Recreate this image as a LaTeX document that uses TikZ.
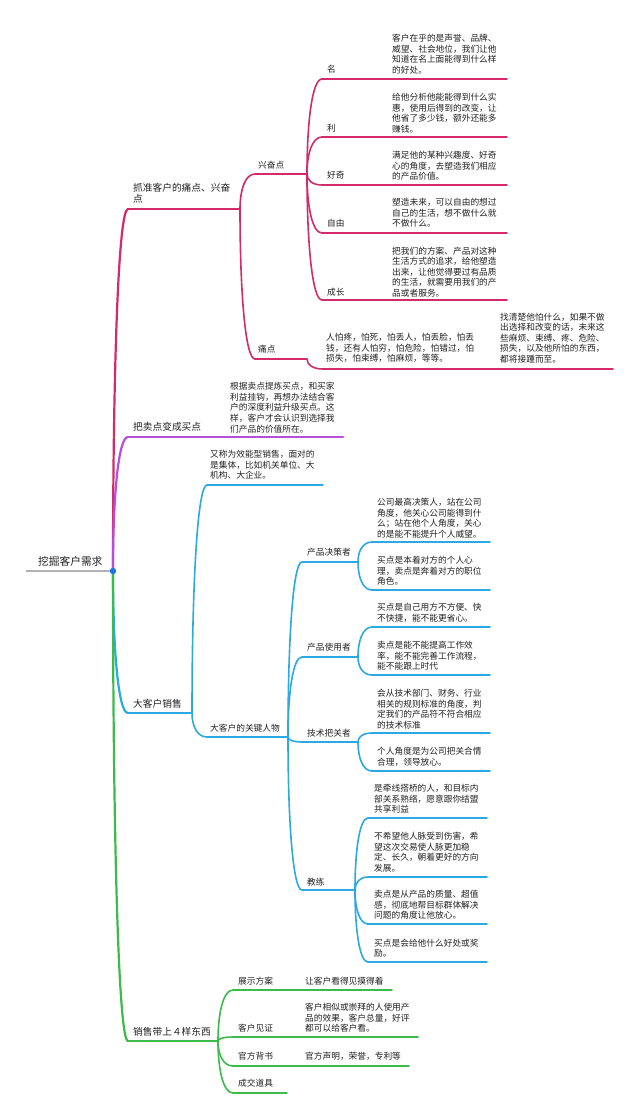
\documentclass[tikz,border=0pt]{standalone}
\usepackage{fontspec}
\setmainfont{Noto Sans CJK SC}
\usetikzlibrary{calc}
\definecolor{cM}{HTML}{D42A6A}
\definecolor{cP}{HTML}{B44FE0}
\definecolor{cB}{HTML}{2AA9E3}
\definecolor{cG}{HTML}{3DBB4A}
\definecolor{cDot}{HTML}{1A73E8}
\definecolor{cTxt}{HTML}{222222}
\newcommand\brlink[3]{\draw[#1] (#2) .. controls ($(#2)!0.55!(#2|-#3)$) and ($(#2|-#3)!0.35!(#3)$) .. (#3);}
\tikzset{
  lbl/.style={anchor=west, inner sep=0pt, text=cTxt, align=left, font=\fontsize{8.7}{10.6}\selectfont},
  biglbl/.style={lbl, font=\fontsize{9.7}{10.8}\selectfont},
  rootlbl/.style={lbl, font=\fontsize{10.7}{12}\selectfont},
  lvA/.style={line width=2.2pt, line cap=round},
  lvB/.style={line width=1.6pt, line cap=round},
  mA/.style={lvA, draw=cM}, mB/.style={lvB, draw=cM},
  pA/.style={lvA, draw=cP},
  bA/.style={lvA, draw=cB}, bB/.style={lvB, draw=cB},
  gA/.style={lvA, draw=cG}, gB/.style={lvB, draw=cG},
}
\begin{document}
\begin{tikzpicture}[x=1pt,y=-1pt]
\fill[white] (0,0) rectangle (640,1120);
\useasboundingbox (0,0) rectangle (640,1120);

% root
\coordinate (rs) at (26,571);
\coordinate (R) at (113,571);
\node[rootlbl] (root) at (38,561) {挖掘客户需求};
\draw[line width=2.2pt, draw=black!30] (rs) -- (R);

% ===== magenta =====
\coordinate (a1) at (128,209); \coordinate (a2) at (240,209);
\node[biglbl] (A) at (133,193.5) {抓准客户的痛点、兴奋\\点};
\brlink{mA}{R}{a1}
\draw[mA] (a1) -- (a2);

\coordinate (b1) at (255,174); \coordinate (b2) at (307,174);
\node[lbl] (B) at (258,165) {兴奋点};
\brlink{mB}{a2}{b1}
\draw[mB] (b1) -- (b2);

\coordinate (c1) at (255,359); \coordinate (c2) at (307,359);
\node[lbl] (C) at (258,349) {痛点};
\brlink{mB}{a2}{c1}
\draw[mB] (c1) -- (c2);

% 兴奋点 children
\coordinate (m1s) at (322,79); \coordinate (m1e) at (507,79);
\node[lbl] (m1) at (327,69) {名};
\node[lbl] (m1t) at (392,54) {客户在乎的是声誉、品牌、\\威望、社会地位，我们让他\\知道在名上面能得到什么样\\的好处。};
\brlink{mB}{b2}{m1s}
\draw[mB] (m1s) -- (m1e);

\coordinate (m2s) at (322,137); \coordinate (m2e) at (507,137);
\node[lbl] (m2) at (327,128) {利};
\node[lbl] (m2t) at (392,113) {给他分析他能能得到什么实\\惠，使用后得到的改变，让\\他省了多少钱，额外还能多\\赚钱。};
\brlink{mB}{b2}{m2s}
\draw[mB] (m2s) -- (m2e);

\coordinate (m3s) at (322,185); \coordinate (m3e) at (507,185);
\node[lbl] (m3) at (327,175) {好奇};
\node[lbl] (m3t) at (392,166) {满足他的某种兴趣度、好奇\\心的角度，去塑造我们相应\\的产品价值。};
\brlink{mB}{b2}{m3s}
\draw[mB] (m3s) -- (m3e);

\coordinate (m4s) at (322,233); \coordinate (m4e) at (507,233);
\node[lbl] (m4) at (327,223) {自由};
\node[lbl] (m4t) at (392,213) {塑造未来，可以自由的想过\\自己的生活，想不做什么就\\不做什么。};
\brlink{mB}{b2}{m4s}
\draw[mB] (m4s) -- (m4e);

\coordinate (m5s) at (322,300); \coordinate (m5e) at (507,300);
\node[lbl] (m5) at (327,292) {成长};
\node[lbl] (m5t) at (392,272) {把我们的方案、产品对这种\\生活方式的追求，给他塑造\\出来，让他觉得要过有品质\\的生活，就需要用我们的产\\品或者服务。};
\brlink{mB}{b2}{m5s}
\draw[mB] (m5s) -- (m5e);

% 痛点 children
\coordinate (d1) at (323,369); \coordinate (d2) at (496,369); \coordinate (d3) at (613,369);
\node[lbl] (dt) at (326,348) {人怕疼，怕死，怕丢人，怕丢脸，怕丢\\钱，还有人怕穷，怕危险，怕错过，怕\\损失，怕束缚，怕麻烦，等等。};
\node[lbl] (et) at (500,338) {找清楚他怕什么，如果不做\\出选择和改变的话，未来这\\些麻烦、束缚、疼、危险、\\损失，以及他所怕的东西，\\都将接踵而至。};
\brlink{mB}{c2}{d1}
\draw[mB] (d1) -- (d2) -- (d3);

% ===== purple =====
\coordinate (p1) at (128,437); \coordinate (p2) at (222,437); \coordinate (p3) at (343,437);
\node[biglbl] (P) at (133,427) {把卖点变成买点};
\node[lbl] (pt) at (230,407.5) {根据卖点提炼买点，和买家\\利益挂钩，再想办法结合客\\户的深度利益升级买点。这\\样，客户才会认识到选择我\\们产品的价值所在。};
\brlink{pA}{R}{p1}
\draw[pA] (p1) -- (p2) -- (p3);

% ===== blue =====
\coordinate (q1) at (128,713); \coordinate (q2) at (192,713);
\node[biglbl] (Q) at (133,704) {大客户销售};
\brlink{bA}{R}{q1}
\draw[bA] (q1) -- (q2);

\coordinate (r1) at (207,485); \coordinate (r2) at (323,485);
\node[lbl] (rt) at (210,465) {又称为效能型销售，面对的\\是集体，比如机关单位、大\\机构、大企业。};
\brlink{bB}{q2}{r1}
\draw[bB] (r1) -- (r2);

\coordinate (s1) at (207,737); \coordinate (s2) at (288,737);
\node[lbl] (S) at (210,728) {大客户的关键人物};
\brlink{bB}{q2}{s1}
\draw[bB] (s1) -- (s2);

% key persons
\coordinate (k1s) at (302,562); \coordinate (k1e) at (358,562);
\node[lbl] (k1) at (307,552) {产品决策者};
\brlink{bB}{s2}{k1s}
\draw[bB] (k1s) -- (k1e);

\coordinate (k2s) at (302,657); \coordinate (k2e) at (358,657);
\node[lbl] (k2) at (307,647) {产品使用者};
\brlink{bB}{s2}{k2s}
\draw[bB] (k2s) -- (k2e);

\coordinate (k3s) at (302,742); \coordinate (k3e) at (358,742);
\node[lbl] (k3) at (307,733) {技术把关者};
\brlink{bB}{s2}{k3s}
\draw[bB] (k3s) -- (k3e);

\coordinate (k4s) at (302,890); \coordinate (k4e) at (355,890);
\node[lbl] (k4) at (307,882) {教练};
\brlink{bB}{s2}{k4s}
\draw[bB] (k4s) -- (k4e);

% 产品决策者 leaves
\coordinate (l1s) at (372,542); \coordinate (l1e) at (490,542);
\node[lbl] (l1) at (377,518) {公司最高决策人，站在公司\\角度，他关心公司能得到什\\么；站在他个人角度，关心\\的是能不能提升个人威望。};
\brlink{bB}{k1e}{l1s}
\draw[bB] (l1s) -- (l1e);

\coordinate (l2s) at (372,590); \coordinate (l2e) at (490,590);
\node[lbl] (l2) at (377,571) {买点是本着对方的个人心\\理，卖点是奔着对方的职位\\角色。};
\brlink{bB}{k1e}{l2s}
\draw[bB] (l2s) -- (l2e);

% 产品使用者 leaves
\coordinate (l3s) at (372,627); \coordinate (l3e) at (490,627);
\node[lbl] (l3) at (377,613) {买点是自己用方不方便、快\\不快捷，能不能更省心。};
\brlink{bB}{k2e}{l3s}
\draw[bB] (l3s) -- (l3e);

\coordinate (l4s) at (372,675); \coordinate (l4e) at (490,675);
\node[lbl] (l4) at (377,656) {卖点是能不能提高工作效\\率，能不能完善工作流程，\\能不能跟上时代};
\brlink{bB}{k2e}{l4s}
\draw[bB] (l4s) -- (l4e);

% 技术把关者 leaves
\coordinate (l5s) at (372,733); \coordinate (l5e) at (490,733);
\node[lbl] (l5) at (377,709) {会从技术部门、财务、行业\\相关的规则标准的角度，判\\定我们的产品符不符合相应\\的技术标准};
\brlink{bB}{k3e}{l5s}
\draw[bB] (l5s) -- (l5e);

\coordinate (l6s) at (372,771); \coordinate (l6e) at (490,771);
\node[lbl] (l6) at (377,757) {个人角度是为公司把关合情\\合理，领导放心。};
\brlink{bB}{k3e}{l6s}
\draw[bB] (l6s) -- (l6e);

% 教练 leaves
\coordinate (l7s) at (368,818); \coordinate (l7e) at (487,818);
\node[lbl] (l7) at (374,799) {是牵线搭桥的人，和目标内\\部关系熟络，愿意跟你结盟\\共享利益};
\brlink{bB}{k4e}{l7s}
\draw[bB] (l7s) -- (l7e);

\coordinate (l8s) at (368,877); \coordinate (l8e) at (487,877);
\node[lbl] (l8) at (374,852) {不希望他人脉受到伤害，希\\望这次交易使人脉更加稳\\定、长久，朝着更好的方向\\发展。};
\brlink{bB}{k4e}{l8s}
\draw[bB] (l8s) -- (l8e);

\coordinate (l9s) at (368,924); \coordinate (l9e) at (487,924);
\node[lbl] (l9) at (374,905) {卖点是从产品的质量、超值\\感，彻底地帮目标群体解决\\问题的角度让他放心。};
\brlink{bB}{k4e}{l9s}
\draw[bB] (l9s) -- (l9e);

\coordinate (l10s) at (368,962); \coordinate (l10e) at (487,962);
\node[lbl] (l10) at (374,948) {买点是会给他什么好处或奖\\励。};
\brlink{bB}{k4e}{l10s}
\draw[bB] (l10s) -- (l10e);

% ===== green =====
\coordinate (g1) at (128,1041); \coordinate (g2) at (218,1041);
\node[biglbl] (G) at (133,1032) {销售带上４样东西};
\brlink{gA}{R}{g1}
\draw[gA] (g1) -- (g2);

\coordinate (h1s) at (233,990); \coordinate (h1m) at (287,990); \coordinate (h1e) at (392,990);
\node[lbl] (h1) at (238,981) {展示方案};
\node[lbl] (h1t) at (305,981) {让客户看得见摸得着};
\brlink{gB}{g2}{h1s}
\draw[gB] (h1s) -- (h1m) -- (h1e);

\coordinate (h2s) at (233,1037); \coordinate (h2m) at (287,1037); \coordinate (h2e) at (418,1037);
\node[lbl] (h2) at (238,1028) {客户见证};
\node[lbl] (h2t) at (305,1018) {客户相似或崇拜的人使用产\\品的效果，客户总量，好评\\都可以给客户看。};
\brlink{gB}{g2}{h2s}
\draw[gB] (h2s) -- (h2m) -- (h2e);

\coordinate (h3s) at (233,1066); \coordinate (h3m) at (287,1066); \coordinate (h3e) at (409,1066);
\node[lbl] (h3) at (238,1056) {官方背书};
\node[lbl] (h3t) at (305,1056) {官方声明，荣誉，专利等};
\brlink{gB}{g2}{h3s}
\draw[gB] (h3s) -- (h3m) -- (h3e);

\coordinate (h4s) at (233,1093); \coordinate (h4e) at (287,1093);
\node[lbl] (h4) at (238,1083) {成交道具};
\brlink{gB}{g2}{h4s}
\draw[gB] (h4s) -- (h4e);

% root dot
\fill[cDot] (R) circle (3.2);
\end{tikzpicture}
\end{document}
